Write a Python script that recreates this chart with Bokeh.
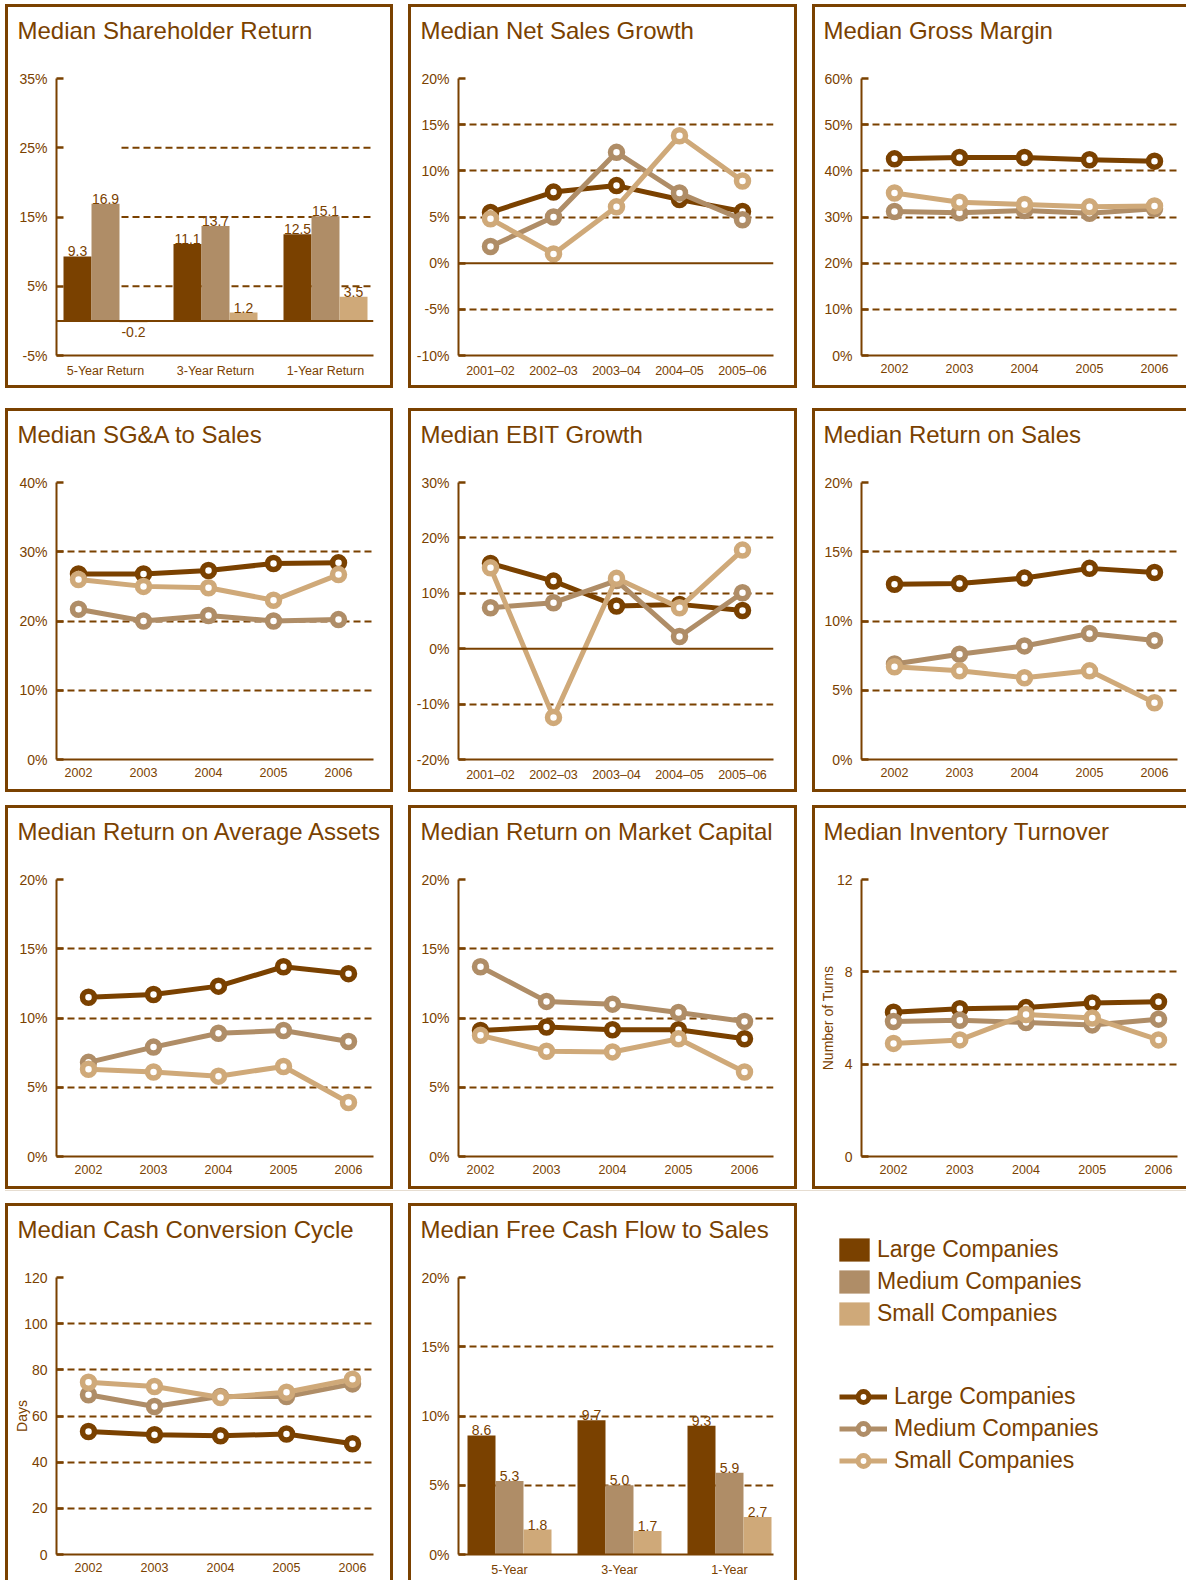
from bokeh.plotting import figure
from bokeh.models import (ColumnDataSource, FixedTicker, PrintfTickFormatter, Span, Title,
                          Legend, LegendItem, Range1d, Div)
from bokeh.layouts import row, column
from bokeh.embed import file_html
from bokeh.resources import INLINE
from bokeh.core.properties import value

# ---------------------------------------------------------------- data
series_names = ["Large Companies", "Medium Companies", "Small Companies"]

return_periods = ["5-Year Return", "3-Year Return", "1-Year Return"]
fcf_periods = ["5-Year", "3-Year", "1-Year"]
fiscal_periods = ["2001–02", "2002–03", "2003–04", "2004–05", "2005–06"]
years = ["2002", "2003", "2004", "2005", "2006"]

shr_large = [9.3, 11.1, 12.5]
shr_medium = [16.9, 13.7, 15.1]
shr_small = [-0.2, 1.2, 3.5]

nsg_large = [5.5, 7.7, 8.4, 6.9, 5.6]
nsg_medium = [1.8, 5.0, 12.0, 7.6, 4.7]
nsg_small = [4.8, 1.0, 6.1, 13.8, 8.9]

gm_large = [42.6, 42.9, 42.9, 42.4, 42.1]
gm_medium = [31.2, 30.9, 31.4, 30.8, 31.8]
gm_small = [35.2, 33.2, 32.7, 32.2, 32.4]

sga_large = [26.8, 26.8, 27.3, 28.3, 28.4]
sga_medium = [21.7, 20.0, 20.8, 20.0, 20.2]
sga_small = [26.0, 25.0, 24.8, 23.0, 26.7]

ebit_large = [15.4, 12.2, 7.7, 8.0, 6.9]
ebit_medium = [7.4, 8.3, 12.3, 2.2, 10.1]
ebit_small = [14.6, -12.4, 12.7, 7.4, 17.8]

ros_large = [12.65, 12.7, 13.1, 13.8, 13.5]
ros_medium = [6.9, 7.6, 8.2, 9.1, 8.6]
ros_small = [6.7, 6.4, 5.9, 6.4, 4.1]

roa_large = [11.5, 11.7, 12.3, 13.7, 13.2]
roa_medium = [6.8, 7.9, 8.9, 9.1, 8.3]
roa_small = [6.3, 6.1, 5.8, 6.5, 3.9]

romc_large = [9.1, 9.35, 9.15, 9.15, 8.5]
romc_medium = [13.7, 11.2, 11.0, 10.4, 9.75]
romc_small = [8.75, 7.6, 7.55, 8.5, 6.1]

inv_large = [6.25, 6.4, 6.45, 6.65, 6.7]
inv_medium = [5.85, 5.9, 5.8, 5.7, 5.95]
inv_small = [4.9, 5.05, 6.15, 6.0, 5.05]

ccc_large = [53.3, 51.9, 51.4, 52.2, 48.0]
ccc_medium = [69.2, 64.1, 68.5, 68.4, 73.9]
ccc_small = [74.6, 72.8, 68.0, 70.3, 75.9]

fcf_large = [8.6, 9.7, 9.3]
fcf_medium = [5.3, 5.0, 5.9]
fcf_small = [1.8, 1.7, 2.7]

# ---------------------------------------------------------------- style
FONT = "Liberation Sans"
INK = "#7A4100"
SERIES_COLORS = ["#7A4100", "#AF8D67", "#CFA979"]

# per column: canvas width, left border, frame width, title x
COLS = [(382, 48, 317, 9), (383, 47, 315, 9), (371, 46, 316, 8)]
ROW_H = [378, 378, 378, 374]
FRAME_TOP, FRAME_H = 71, 277
TITLE_GAP = 35          # space kept between the title text and the plot frame
GRID_DASH = "7 4"
MARKER_SIZE, MARKER_RING = 12, 5.5


def base_panel(title, col, r, x_range, y_range, y_ticks, grid_ticks,
               y_format="%d%%", zero=False, y_label=None, y_label_standoff=-2):
    width, left, fw, tx = COLS[col]
    height = ROW_H[r]
    p = figure(width=width, height=height, x_range=x_range, y_range=y_range,
               output_backend="svg", toolbar_location=None, tools="",
               min_border_left=left, min_border_right=width - left - fw,
               min_border_top=FRAME_TOP,
               min_border_bottom=height - FRAME_TOP - FRAME_H)
    p.styles = {"outline": f"3px solid {INK}"}
    p.outline_line_color = None
    p.background_fill_color = "white"
    p.border_fill_color = "white"

    p.add_layout(Title(text=title, align="left", vertical_align="bottom",
                       offset=tx - left, standoff=0,
                       padding={"left": 0, "right": 0, "top": 0, "bottom": TITLE_GAP},
                       text_font=FONT, text_font_size="24px",
                       text_font_style="normal", text_color=INK), "above")

    p.xgrid.visible = False
    p.ygrid.ticker = FixedTicker(ticks=grid_ticks)
    p.ygrid.grid_line_color = INK
    p.ygrid.grid_line_width = 2
    p.ygrid.grid_line_dash = GRID_DASH

    yax = p.yaxis[0]
    xax = p.xaxis[0]
    yax.ticker = FixedTicker(ticks=y_ticks)
    yax.formatter = PrintfTickFormatter(format=y_format)
    for ax in (xax, yax):
        ax.axis_line_color = INK
        ax.axis_line_width = 2
        ax.minor_tick_line_color = None
        ax.major_label_text_color = INK
        ax.major_label_text_font = FONT
    yax.major_tick_in = 7
    yax.major_tick_out = 0
    yax.major_tick_line_color = INK
    yax.major_tick_line_width = 2.5
    yax.major_label_standoff = 9
    yax.major_label_text_font_size = "14px"
    xax.major_tick_line_color = None
    xax.major_label_standoff = 2
    xax.major_label_text_font_size = "12.5px"
    if y_label:
        yax.axis_label = y_label
        yax.axis_label_text_font = FONT
        yax.axis_label_text_font_size = "14px"
        yax.axis_label_text_font_style = "normal"
        yax.axis_label_text_color = INK
        yax.axis_label_standoff = y_label_standoff

    if zero:
        p.add_layout(Span(location=0, dimension="width", line_color=INK, line_width=2))
    return p


def line_panel(title, col, r, labels, series, y_lo, y_hi, y_ticks, grid_ticks,
               px_first, px_last, **kw):
    fw = COLS[col][2]
    step = (px_last - px_first) / (len(labels) - 1)
    x0 = -px_first / step
    p = base_panel(title, col, r, Range1d(x0, x0 + fw / step), Range1d(y_lo, y_hi),
                   y_ticks, grid_ticks, **kw)
    xs = list(range(len(labels)))
    p.xaxis.ticker = FixedTicker(ticks=xs)
    p.xaxis.major_label_overrides = {i: lab for i, lab in zip(xs, labels)}
    for vals, color in zip(series, SERIES_COLORS):
        src = ColumnDataSource(dict(x=xs, y=vals))
        p.line("x", "y", source=src, line_color=color, line_width=5, line_join="round")
        p.scatter("x", "y", source=src, size=MARKER_SIZE, fill_color="white",
                  line_color=color, line_width=MARKER_RING)
    return p


def bar_panel(title, col, r, labels, series, y_lo, y_hi, y_ticks, grid_ticks,
              px_first, grid_from_px=None, **kw):
    fw = COLS[col][2]
    pitch = 110.0
    bar_w = 28.0 / pitch
    x0 = -px_first / pitch
    x1 = x0 + fw / pitch
    p = base_panel(title, col, r, Range1d(x0, x1), Range1d(y_lo, y_hi),
                   y_ticks, grid_ticks, **kw)
    if grid_from_px is not None:
        # dashed guides that begin a little to the right of the axis
        p.ygrid.visible = False
        gx = x0 + grid_from_px / pitch
        p.segment(x0=[gx] * len(grid_ticks), x1=[x1] * len(grid_ticks),
                  y0=grid_ticks, y1=grid_ticks, line_color=INK, line_width=2,
                  line_dash=GRID_DASH)
    xs = list(range(len(labels)))
    p.xaxis.ticker = FixedTicker(ticks=xs)
    p.xaxis.major_label_overrides = {i: lab for i, lab in zip(xs, labels)}
    for k, (vals, color) in enumerate(zip(series, SERIES_COLORS)):
        bx = [i + (k - 1) * bar_w for i in xs]
        p.vbar(x=bx, top=vals, bottom=0, width=bar_w, fill_color=color, line_color=None)
        up = [(x, v) for x, v in zip(bx, vals) if v >= 0]
        down = [(x, v) for x, v in zip(bx, vals) if v < 0]
        for pts, base, off in ((up, "alphabetic", -5), (down, "top", 5)):
            if not pts:
                continue
            p.text(x=[a for a, _ in pts], y=[b for _, b in pts],
                   text=[f"{b:.1f}" for _, b in pts], text_align="center",
                   text_baseline=base, y_offset=off, text_font=value(FONT),
                   text_font_size="14px", text_color=INK)
    return p


p1 = bar_panel("Median Shareholder Return", 0, 0, return_periods,
               [shr_large, shr_medium, shr_small], -5, 35, [-5, 5, 15, 25, 35],
               [5, 15, 25], px_first=49, grid_from_px=65, zero=True)
p2 = line_panel("Median Net Sales Growth", 1, 0, fiscal_periods,
                [nsg_large, nsg_medium, nsg_small], -10, 20,
                [-10, -5, 0, 5, 10, 15, 20], [-5, 5, 10, 15], 32, 284, zero=True)
p3 = line_panel("Median Gross Margin", 2, 0, years, [gm_large, gm_medium, gm_small],
                0, 60, [0, 10, 20, 30, 40, 50, 60], [10, 20, 30, 40, 50], 33, 293)

p4 = line_panel("Median SG&A to Sales", 0, 1, years, [sga_large, sga_medium, sga_small],
                0, 40, [0, 10, 20, 30, 40], [10, 20, 30], 22, 282)
p5 = line_panel("Median EBIT Growth", 1, 1, fiscal_periods,
                [ebit_large, ebit_medium, ebit_small], -20, 30,
                [-20, -10, 0, 10, 20, 30], [-10, 10, 20], 32, 284, zero=True)
p6 = line_panel("Median Return on Sales", 2, 1, years, [ros_large, ros_medium, ros_small],
                0, 20, [0, 5, 10, 15, 20], [5, 10, 15], 33, 293)

p7 = line_panel("Median Return on Average Assets", 0, 2, years,
                [roa_large, roa_medium, roa_small], 0, 20, [0, 5, 10, 15, 20],
                [5, 10, 15], 32, 292)
p8 = line_panel("Median Return on Market Capital", 1, 2, years,
                [romc_large, romc_medium, romc_small], 0, 20, [0, 5, 10, 15, 20],
                [5, 10, 15], 22, 286)
p9 = line_panel("Median Inventory Turnover", 2, 2, years,
                [inv_large, inv_medium, inv_small], 0, 12, [0, 4, 8, 12], [4, 8],
                32, 297, y_format="%d", y_label="Number of Turns")

p10 = line_panel("Median Cash Conversion Cycle", 0, 3, years,
                 [ccc_large, ccc_medium, ccc_small], 0, 120,
                 [0, 20, 40, 60, 80, 100, 120], [20, 40, 60, 80, 100], 32, 296,
                 y_format="%d", y_label="Days", y_label_standoff=-9)
p11 = bar_panel("Median Free Cash Flow to Sales", 1, 3, fcf_periods,
                [fcf_large, fcf_medium, fcf_small], 0, 20, [0, 5, 10, 15, 20],
                [5, 10, 15], px_first=51)

# ---------------------------------------------------------------- legend cell
# The swatch renderers hold one point outside the visible range, so only
# their legend entries are drawn.  The frame fills the whole cell.
leg = figure(width=371, height=374, x_range=(0, 1), y_range=(0, 1),
             x_axis_location=None, y_axis_location=None, output_backend="svg",
             toolbar_location=None, tools="", min_border=0)
leg.frame_align = False
leg.grid.visible = False
leg.outline_line_color = None
bar_items, line_items = [], []
for name, color in zip(series_names, SERIES_COLORS):
    rb = leg.vbar(x=[5], top=[5], bottom=[4], width=0.1, fill_color=color, line_color=None)
    bar_items.append(LegendItem(label=name, renderers=[rb]))
    rl = leg.line(x=[5, 6], y=[5, 5], line_color=color, line_width=5)
    rs = leg.scatter(x=[5], y=[5], size=11, fill_color="white", line_color=color,
                     line_width=5)
    line_items.append(LegendItem(label=name, renderers=[rl, rs]))

for items, loc, gw, gh, stand, spacing in ((bar_items, (20, 252), 38, 29, 4, 3),
                                           (line_items, (24, 106), 48, 27, 7, 5)):
    lg = Legend(items=items, location=loc, glyph_width=gw, glyph_height=gh,
                label_standoff=stand, spacing=spacing,
                padding=0, margin=0, border_line_color=None, background_fill_alpha=0,
                label_text_font=FONT, label_text_font_size="23px",
                label_text_color=INK)
    leg.add_layout(lg)

# ---------------------------------------------------------------- page layout
r1 = row(p1, p2, p3, spacing=21, margin=(7, 0, 0, 8))
r2 = row(p4, p5, p6, spacing=21, margin=(26, 0, 0, 8))
r3 = row(p7, p8, p9, spacing=21, margin=(19, 0, 0, 8))
rule = Div(text="", width=1181, height=1, margin=(4, 0, 0, 5),
           styles={"background-color": "#E6DDD1"})
r4 = row(p10, p11, leg, spacing=21, margin=(15, 0, 0, 8))
page = column(r1, r2, r3, rule, r4, spacing=0)

open("out.html", "w").write(file_html(page, INLINE))
